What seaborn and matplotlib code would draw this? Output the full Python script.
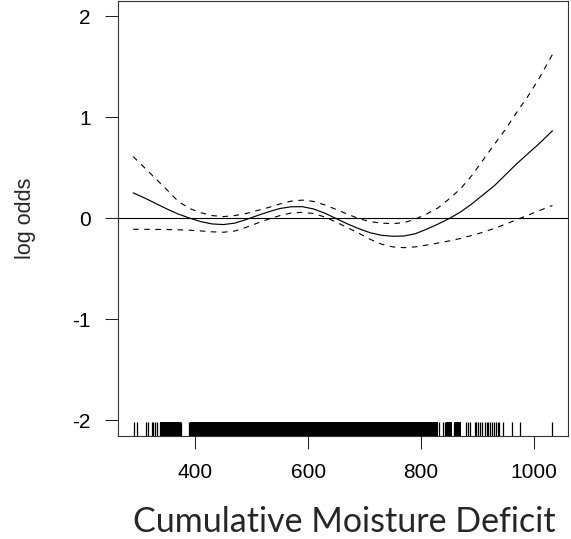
import matplotlib
matplotlib.use("Agg")
import matplotlib.pyplot as plt
import seaborn as sns
import pandas as pd

# ---- data ----
fit_x = [290, 310, 330, 350, 370, 390, 410, 430, 450, 470, 490, 510, 530, 550, 570,
         590, 610, 630, 650, 670, 690, 710, 730, 750, 770, 790, 810, 830, 850, 870,
         890, 910, 930, 950, 970, 990, 1010, 1033]
fit_y = [0.25, 0.20, 0.145, 0.09, 0.04, 0.0, -0.035, -0.058, -0.064, -0.05, -0.015,
         0.025, 0.062, 0.095, 0.112, 0.113, 0.09, 0.048, -0.005, -0.058, -0.105,
         -0.145, -0.17, -0.18, -0.177, -0.155, -0.11, -0.06, -0.005, 0.06, 0.14,
         0.23, 0.32, 0.43, 0.54, 0.64, 0.74, 0.865]
upper_y = [0.61, 0.50, 0.39, 0.28, 0.165, 0.095, 0.053, 0.025, 0.015, 0.025, 0.045,
           0.075, 0.105, 0.14, 0.168, 0.178, 0.165, 0.13, 0.085, 0.038, -0.005,
           -0.035, -0.05, -0.055, -0.045, -0.01, 0.04, 0.10, 0.19, 0.29, 0.42,
           0.575, 0.73, 0.88, 1.05, 1.21, 1.39, 1.62]
lower_y = [-0.11, -0.111, -0.112, -0.113, -0.116, -0.12, -0.127, -0.136, -0.14,
           -0.128, -0.092, -0.05, -0.01, 0.025, 0.05, 0.057, 0.045, 0.01, -0.04,
           -0.095, -0.15, -0.21, -0.258, -0.285, -0.293, -0.285, -0.267, -0.247,
           -0.226, -0.202, -0.172, -0.14, -0.102, -0.06, -0.015, 0.03, 0.075, 0.125]

# isolated rug marks
rug_sparse = [
    291, 297, 312, 316, 323, 326, 329, 333, 337, 375, 389, 753, 776,
    821, 832, 839, 843, 858, 879, 883, 887, 895, 898, 901, 904, 908, 913, 917,
    919, 922, 926, 929, 933, 937, 939, 945, 961, 975, 1032,
]
# tightly packed rug marks (observations so close they merge)
rug_dense = [
    340, 342, 344, 346, 348, 350, 352, 354, 356, 358, 360, 362, 364, 366, 368, 370, 372,
    392, 394, 396, 398, 400, 402, 404, 406, 408, 410, 412, 414, 416, 418, 420,
    422, 424, 426, 428, 430, 432, 434, 436, 438, 440, 442, 444, 446, 448, 450,
    452, 454, 456, 458, 460, 462, 464, 466, 468, 470, 472, 474, 476, 478, 480,
    482, 484, 486, 488, 490, 492, 494, 496, 498, 500, 502, 504, 506, 508, 510,
    512, 514, 516, 518, 520, 522, 524, 526, 528, 530, 532, 534, 536, 538, 540,
    542, 544, 546, 548, 550, 552, 554, 556, 558, 560, 562, 564, 566, 568, 570,
    572, 574, 576, 578, 580, 582, 584, 586, 588, 590, 592, 594, 596, 598, 600,
    602, 604, 606, 608, 610, 612, 614, 616, 618, 620, 622, 624, 626, 628, 630,
    632, 634, 636, 638, 640, 642, 644, 646, 648, 650, 652, 654, 656, 658, 660,
    662, 664, 666, 668, 670, 672, 674, 676, 678, 680, 682, 684, 686, 688, 690,
    692, 694, 696, 698, 700, 702, 704, 706, 708, 710, 712, 714, 716, 718, 720,
    722, 724, 726, 728, 730, 732, 734, 736, 738, 740, 742, 744, 746, 748, 750, 752,
    755, 757, 759, 761, 763, 765, 767, 769, 771, 773,
    779, 781, 783, 785,
    789, 791, 793, 795, 797, 799, 801, 803, 805, 807, 809, 811, 813, 815, 817,
    823, 825, 827, 847, 849, 851, 861, 863, 865, 867,
]

x_ticks = [400, 600, 800, 1000]
y_ticks = [-2, -1, 0, 1, 2]
x_label = "Cumulative Moisture Deficit"
y_label = "log odds"

df = pd.DataFrame({"x": fit_x, "fit": fit_y, "upper": upper_y, "lower": lower_y})
sparse_df = pd.DataFrame({"x": rug_sparse})
dense_df = pd.DataFrame({"x": rug_dense})

sns.set_style("ticks")
plt.rcParams["font.family"] = ["Liberation Sans", "DejaVu Sans"]

fig = plt.figure(figsize=(5.71, 5.39), dpi=100)
ax = fig.add_axes([117.5 / 571, 1 - 435.7 / 539, (568 - 117.5) / 571, (435.7 - 1.0) / 539])

ax.axhline(0, color="black", lw=0.8, zorder=1)
sns.lineplot(data=df, x="x", y="fit", ax=ax, color="black", lw=0.85, zorder=3)
sns.lineplot(data=df, x="x", y="upper", ax=ax, color="black", lw=0.8,
             linestyle=(0, (5, 5)), zorder=3)
sns.lineplot(data=df, x="x", y="lower", ax=ax, color="black", lw=0.8,
             linestyle=(0, (5, 5)), zorder=3)
sns.rugplot(data=sparse_df, x="x", ax=ax, height=0.031, color="black",
            linewidth=0.9, expand_margins=False, clip_on=True)
sns.rugplot(data=dense_df, x="x", ax=ax, height=0.031, color="black",
            linewidth=2.0, expand_margins=False, clip_on=True, antialiased=False)

ax.set_xlim(262.3, 1060.6)
ax.set_ylim(-2.155, 2.15)
ax.set_xticks(x_ticks)
ax.set_yticks(y_ticks)
ax.set_xticklabels([str(v) for v in x_ticks])
ax.set_yticklabels([str(v) for v in y_ticks])
ax.tick_params(direction="out", length=9.4, width=0.75, colors="#222222",
               labelcolor="black", labelsize=15, pad=10)
for s in ax.spines.values():
    s.set_visible(True)
    s.set_linewidth(0.8)
    s.set_color("#333333")
ax.set_xlabel("")
ax.set_ylabel("")

fig.text(25 / 571, 1 - 218 / 539, y_label, rotation=90, ha="center", va="center",
         fontsize=15.5, family=["Liberation Sans", "DejaVu Sans"])
fig.text(344 / 571, 7 / 539, x_label, ha="center", va="baseline",
         fontsize=24.5, family=["Lato", "DejaVu Sans"])

fig.savefig("out.png", dpi=100)
